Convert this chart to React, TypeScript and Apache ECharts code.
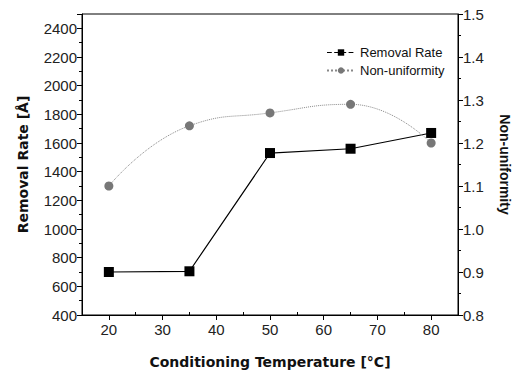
import React, { useEffect, useRef } from "react";
import * as echarts from "echarts";

const temperatures = [20, 35, 50, 65, 80];
const removalRate = [700, 705, 1530, 1560, 1670];
const nonUniformity = [1.1, 1.24, 1.27, 1.29, 1.2];
const xMajorTicks = [20, 30, 40, 50, 60, 70, 80];
const xMinorTicks = [25, 35, 45, 55, 65, 75];

const FONT = "Liberation Sans, Arial, sans-serif";
const NAME_FONT = "DejaVu Sans, Liberation Sans, sans-serif";

export default function App() {
  const ref = useRef<HTMLDivElement>(null);
  useEffect(() => {
    if (!ref.current) return;
    const chart = echarts.init(ref.current, null, { renderer: "svg" });
    const axisLabelStyle = { color: "#222", fontSize: 15, fontFamily: FONT };
    const nameStyle = { color: "#111", fontSize: 14, fontWeight: "bold" as const, fontFamily: NAME_FONT };
    chart.setOption({
      animation: false,
      backgroundColor: "#fff",
      grid: {
        left: 82,
        right: 63,
        top: 14,
        bottom: 61,
        show: true,
        borderColor: "#000",
        borderWidth: 1,
        backgroundColor: "transparent",
      },
      legend: {
        orient: "vertical",
        left: 321,
        top: 41,
        itemWidth: 28,
        itemHeight: 8,
        itemGap: 5,
        textStyle: { fontSize: 13, color: "#111", fontFamily: FONT },
        data: [
          { name: "Removal Rate", lineStyle: { type: "dashed", color: "#000", width: 1.2 } },
          { name: "Non-uniformity" },
        ],
      },
      xAxis: [
        {
          type: "value",
          min: 15,
          max: 85,
          name: "Conditioning Temperature [°C]",
          nameLocation: "middle",
          nameGap: 40,
          nameTextStyle: nameStyle,
          axisLine: { show: true, lineStyle: { color: "#000", width: 1 } },
          axisTick: { show: true, length: 5, customValues: xMajorTicks, lineStyle: { color: "#000" } },
          axisLabel: { ...axisLabelStyle, margin: 7, customValues: xMajorTicks },
          splitLine: { show: false },
        },
        {
          type: "value",
          min: 15,
          max: 85,
          position: "bottom",
          axisLine: { show: false },
          axisTick: { show: true, inside: true, length: 3, customValues: xMinorTicks, lineStyle: { color: "#000" } },
          axisLabel: { show: false },
          splitLine: { show: false },
        },
      ],
      yAxis: [
        {
          type: "value",
          min: 400,
          max: 2500,
          interval: 200,
          name: "Removal Rate [Å]",
          nameLocation: "middle",
          nameGap: 52,
          nameTextStyle: nameStyle,
          axisLine: { show: true, lineStyle: { color: "#000", width: 1 } },
          axisTick: { show: true, length: 5, lineStyle: { color: "#000" } },
          minorTick: { show: true, splitNumber: 2, length: 3, lineStyle: { color: "#000" } },
          axisLabel: { ...axisLabelStyle, margin: 5, showMaxLabel: false, formatter: (v: number) => String(v) },
          splitLine: { show: false },
        },
        {
          type: "value",
          position: "right",
          min: 0.8,
          max: 1.5,
          interval: 0.1,
          name: "Non-uniformity",
          nameLocation: "middle",
          nameGap: 40,
          nameRotate: -90,
          nameTextStyle: { ...nameStyle, fontFamily: FONT },
          axisLine: { show: true, lineStyle: { color: "#000", width: 1 } },
          axisTick: { show: true, length: 5, lineStyle: { color: "#000" } },
          minorTick: { show: true, splitNumber: 2, length: 3, lineStyle: { color: "#000" } },
          axisLabel: { ...axisLabelStyle, margin: 5, formatter: (v: number) => v.toFixed(1) },
          splitLine: { show: false },
        },
      ],
      series: [
        {
          name: "Removal Rate",
          type: "line",
          xAxisIndex: 0,
          yAxisIndex: 0,
          data: temperatures.map((t, i) => [t, removalRate[i]]),
          symbol: "rect",
          symbolSize: 10,
          itemStyle: { color: "#000" },
          lineStyle: { color: "#000", width: 1.2 },
        },
        {
          name: "Non-uniformity",
          type: "line",
          xAxisIndex: 0,
          yAxisIndex: 1,
          smooth: true,
          data: temperatures.map((t, i) => [t, nonUniformity[i]]),
          symbol: "circle",
          symbolSize: 9,
          itemStyle: { color: "#777" },
          lineStyle: { color: "#888", width: 1, type: "dotted" },
        },
      ],
    });
    return () => chart.dispose();
  }, []);
  return (
    <div
      ref={ref}
      style={{ position: "fixed", left: 0, top: 0, width: 521, height: 376 }}
    />
  );
}
